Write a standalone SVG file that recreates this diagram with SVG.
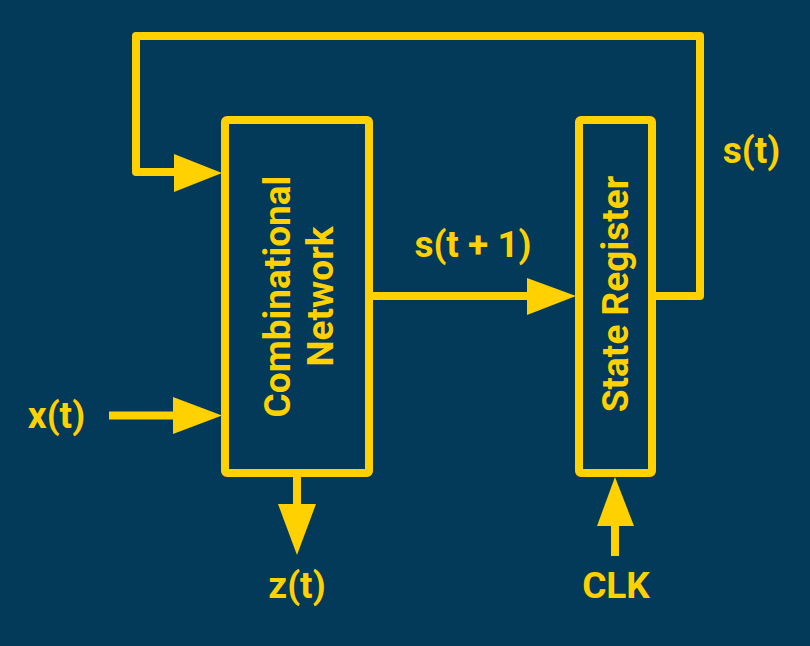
<svg xmlns="http://www.w3.org/2000/svg" width="810" height="646" viewBox="0 0 810 646">
<style>
.ln{fill:none;stroke:#FFD100;stroke-width:8;stroke-linejoin:round}
.box{fill:none;stroke:#FFD100;stroke-width:8;stroke-linejoin:round}
.ah{fill:#FFD100}
text{font-family:Roboto,"Liberation Sans",sans-serif;font-weight:bold;font-size:37px;fill:#FFD100;text-anchor:middle}
</style>
<rect width="810" height="646" fill="#033A5A"/>
<g id="combinational">
<rect class="box" x="225" y="120" width="144" height="353" rx="2"/>
<text transform="translate(290,296.5) rotate(-90)">Combinational</text>
<text transform="translate(333,296.5) rotate(-90)">Network</text>
</g>
<g id="register">
<rect class="box" x="579" y="120" width="73" height="353" rx="2"/>
<text transform="translate(628,294) rotate(-90)">State Register</text>
</g>
<g id="connectors">
<polyline class="ln" points="652,296 700,296 700,36 136,36 136,172 176,172"/>
<polygon class="ah" points="174,154 222,173 174,192"/>
<line class="ln" x1="369" y1="296" x2="530" y2="296"/>
<polygon class="ah" points="527,278 576,296 527,315"/>
<line class="ln" x1="109" y1="415.5" x2="176" y2="415.5"/>
<polygon class="ah" points="173,397 222,415.5 173,434"/>
<line class="ln" x1="297" y1="473" x2="297" y2="506"/>
<polygon class="ah" points="278,504 316,504 297,555"/>
<line class="ln" x1="615" y1="556" x2="615" y2="523"/>
<polygon class="ah" points="597,526 634,526 615,477"/>
</g>
<g id="labels">
<text x="751.5" y="163">s(t)</text>
<text x="473" y="257">s(t + 1)</text>
<text x="56.5" y="428">x(t)</text>
<text x="297" y="598">z(t)</text>
<text x="616" y="598">CLK</text>
</g>
</svg>
